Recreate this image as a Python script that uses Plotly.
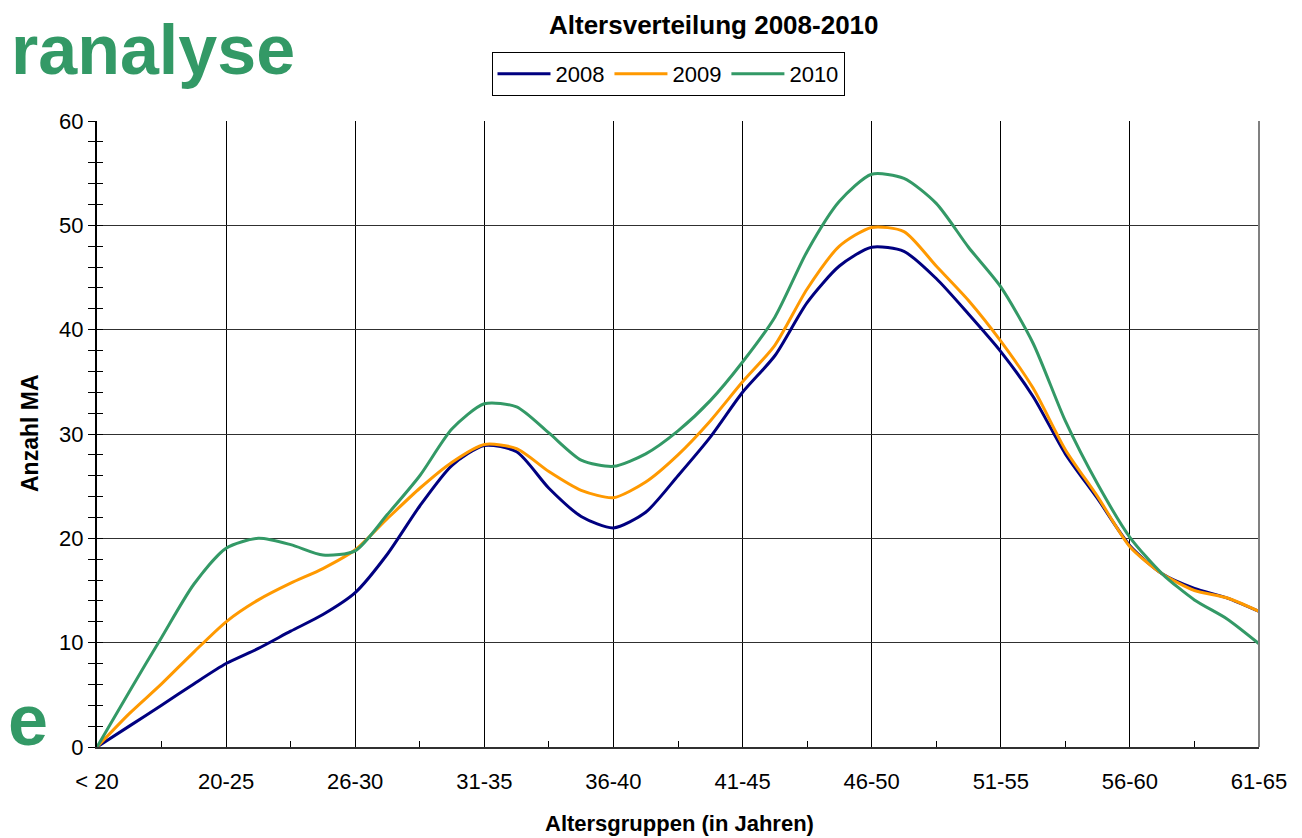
import plotly.graph_objects as go

# ---- data -------------------------------------------------------------
categories = ["< 20", "20-25", "26-30", "31-35", "36-40",
              "41-45", "46-50", "51-55", "56-60", "61-65"]
# sample positions along the category axis (quarter steps between groups)
x_pos = [i * 0.25 for i in range(37)]

y2008 = [0, 2.0, 4.0, 6.05, 8.0, 9.45, 11.1, 12.7, 14.8,
         18.5, 23.1, 27.0, 28.9, 28.3, 24.8, 22.1, 21.0,
         22.5, 26.0, 29.7, 34.0, 37.5, 42.6, 46.1, 47.9,
         47.5, 44.9, 41.5, 37.9, 33.6, 28.1, 23.8, 19.3,
         16.6, 15.2, 14.3, 13.0]
y2009 = [0, 3.2, 6.05, 9.1, 12.0, 14.1, 15.7, 17.1, 18.9,
         21.9, 24.8, 27.3, 29.0, 28.6, 26.4, 24.6, 23.9,
         25.4, 28.0, 31.25, 35.0, 38.5, 43.9, 48.0, 49.8,
         49.4, 46.1, 42.8, 38.9, 34.4, 28.5, 24.0, 19.2,
         16.6, 15.0, 14.3, 13.0]
y2010 = [0, 5.3, 10.5, 15.6, 19.06, 20.0, 19.4, 18.4, 18.8,
         22.3, 26.0, 30.5, 32.9, 32.6, 30.1, 27.5, 26.9,
         28.1, 30.3, 33.2, 36.9, 41.2, 47.5, 52.3, 54.9,
         54.5, 52.1, 47.9, 44.1, 38.7, 31.25, 25.2, 20.1,
         16.6, 14.1, 12.3, 9.9]

series_names = ["2008", "2009", "2010"]
series_values = [y2008, y2009, y2010]
series_colors = ["#000080", "#FF9900", "#339966"]

FONT = "Liberation Sans, Arial, sans-serif"

# the page body has an 8px margin, so the figure is made 8px smaller
PAGE_OFF = 8
PLOT_L, PLOT_R, PLOT_T, PLOT_B = 97, 1259, 121, 747
PW = PLOT_R - PLOT_L
PH = PLOT_B - PLOT_T


def px_x(x):
    return (x - PLOT_L) / PW


def px_y(y):
    return (PLOT_B - y) / PH


fig = go.Figure()
for name, vals, col in zip(series_names, series_values, series_colors):
    fig.add_trace(go.Scatter(
        x=x_pos, y=vals, name=name, mode="lines",
        line=dict(color=col, width=3, shape="spline", smoothing=0.7),
        hoverinfo="skip",
    ))

# invisible trace to enable the overlay y axis (inside ticks)
fig.add_trace(go.Scatter(x=[0], y=[0], yaxis="y2", mode="markers",
                         marker=dict(opacity=0), showlegend=False,
                         hoverinfo="skip"))

cat_idx = list(range(len(categories)))
half_idx = [i + 0.5 for i in range(len(categories) - 1)]

fig.update_layout(
    width=1302 - PAGE_OFF, height=838 - PAGE_OFF,
    margin=dict(l=PLOT_L - PAGE_OFF, r=1302 - PLOT_R,
                t=PLOT_T - PAGE_OFF, b=838 - PLOT_B),
    paper_bgcolor="white", plot_bgcolor="white",
    font=dict(family=FONT, size=22, color="black"),
    showlegend=True,
    legend=dict(
        orientation="h", x=px_x(668), y=px_y(52), xanchor="center",
        yanchor="top",
        bordercolor="black", borderwidth=1, bgcolor="white",
        font=dict(family=FONT, size=22, color="black"),
        itemwidth=53, tracegroupgap=0,
    ),
    xaxis=dict(
        range=[0, 9], tickmode="array", tickvals=cat_idx, ticktext=categories,
        showgrid=True, gridcolor="#000000", gridwidth=1,
        ticks="inside", ticklen=6, tickcolor="#000000",
        minor=dict(tickmode="array", tickvals=half_idx, ticks="inside",
                   ticklen=6, tickcolor="#000000", showgrid=False),
        showline=True, linecolor="#303030", linewidth=2,
        zeroline=False, ticklabelstandoff=14,
        tickfont=dict(family=FONT, size=22),
        fixedrange=True,
    ),
    yaxis=dict(
        range=[0, 60], tickmode="linear", tick0=0, dtick=10,
        showgrid=True, gridcolor="#303030", gridwidth=1,
        ticks="outside", ticklen=7, tickcolor="#000000",
        minor=dict(dtick=2, tick0=0, ticks="outside", ticklen=7,
                   tickcolor="#000000", showgrid=False),
        showline=True, linecolor="#000000", linewidth=2,
        zeroline=False, tickfont=dict(family=FONT, size=22),
        fixedrange=True,
    ),
    yaxis2=dict(
        overlaying="y", side="left", range=[0, 60],
        tickmode="linear", tick0=0, dtick=10,
        ticks="inside", ticklen=6, tickcolor="#000000",
        minor=dict(dtick=2, tick0=0, ticks="inside", ticklen=6,
                   tickcolor="#000000", showgrid=False),
        showticklabels=False, showgrid=False, showline=False,
        zeroline=False, fixedrange=True,
    ),
)

# right border of the plot area
fig.add_shape(type="line", xref="paper", yref="paper", x0=1, x1=1, y0=0, y1=1,
              line=dict(color="#808080", width=2))

# title and axis titles
fig.add_annotation(text="<b>Altersverteilung 2008-2010</b>", xref="paper",
                   yref="paper", x=px_x(714), y=px_y(8), xanchor="center",
                   yanchor="top", showarrow=False,
                   font=dict(family=FONT, size=26, color="black"))
fig.add_annotation(text="<b>Altersgruppen (in Jahren)</b>", xref="paper",
                   yref="paper", x=px_x(679), y=px_y(823), xanchor="center",
                   yanchor="middle", showarrow=False,
                   font=dict(family=FONT, size=22, color="black"))
fig.add_annotation(text="<b>Anzahl MA</b>", xref="paper", yref="paper",
                   x=px_x(30), y=px_y(433), xanchor="center", yanchor="middle",
                   textangle=-90, showarrow=False,
                   font=dict(family=FONT, size=23, color="black"))

# remnants of the slide text behind the chart
fig.add_annotation(text="<b>ranalyse</b>", xref="paper", yref="paper",
                   x=px_x(9), y=px_y(9), xanchor="left", yanchor="top",
                   showarrow=False,
                   font=dict(family=FONT, size=70, color="#339966"))
fig.add_annotation(text="<b>e</b>", xref="paper", yref="paper",
                   x=px_x(50), y=px_y(720), xanchor="right",
                   yanchor="middle", showarrow=False,
                   font=dict(family=FONT, size=72, color="#339966"))

fig.write_html("out.html")
